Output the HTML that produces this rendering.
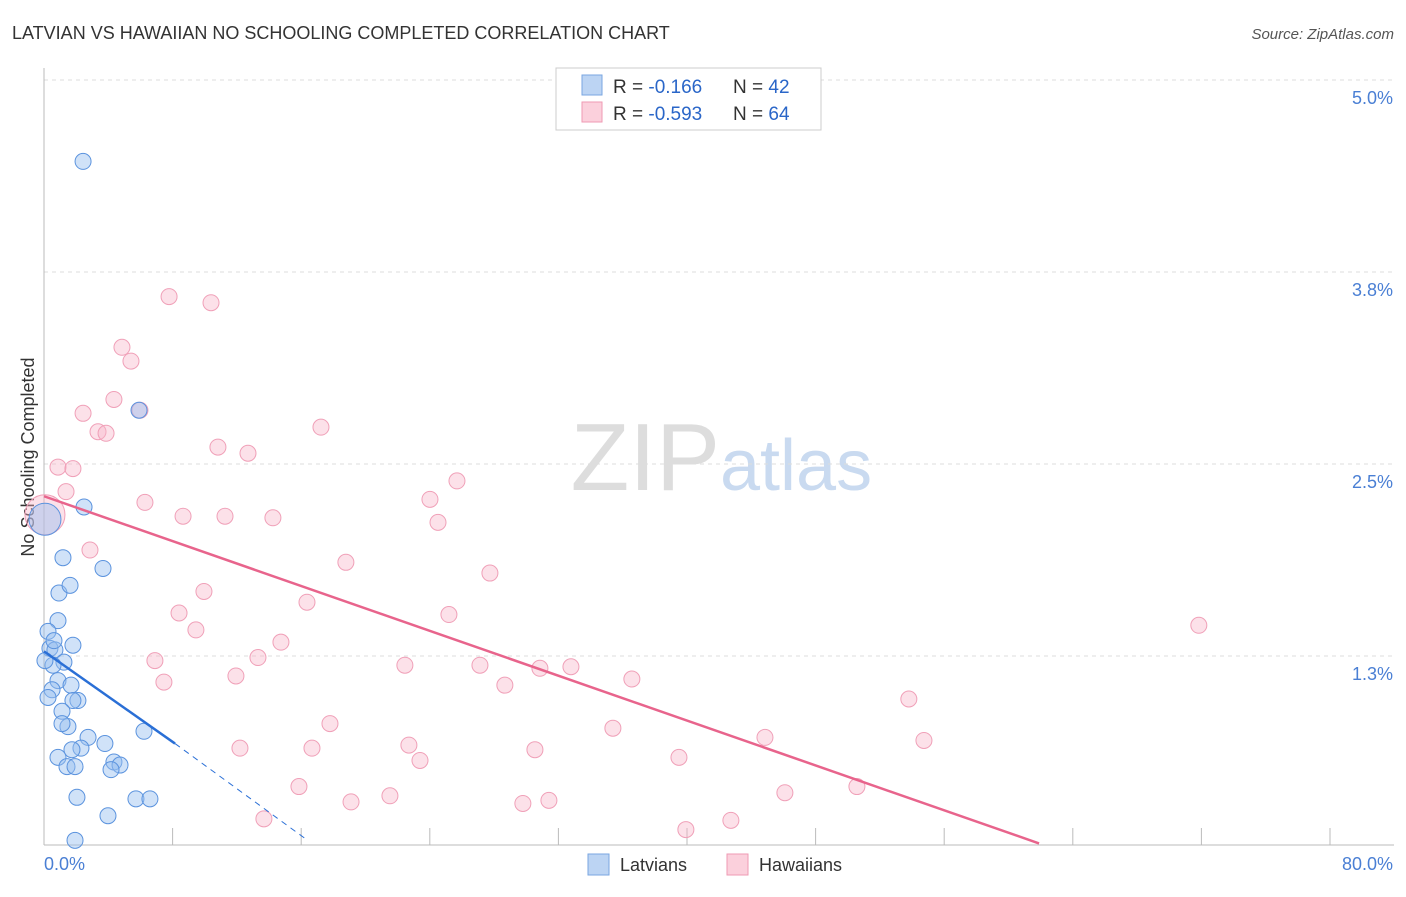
<!DOCTYPE html>
<html><head><meta charset="utf-8"><style>
body{margin:0;background:#fff;font-family:"Liberation Sans",sans-serif}
svg text{font-family:"Liberation Sans",sans-serif}
</style></head><body>
<svg id="c" width="1406" height="892">
<text x="12" y="39" font-size="18" fill="#333">LATVIAN VS HAWAIIAN NO SCHOOLING COMPLETED CORRELATION CHART</text>
<text x="1394" y="39" font-size="15" fill="#555" font-style="italic" text-anchor="end">Source: ZipAtlas.com</text>
<text x="34" y="457" font-size="18" fill="#333" transform="rotate(-90 34 457)" text-anchor="middle">No Schooling Completed</text>
<text x="720" y="490" font-size="96" fill="#ddd" text-anchor="end" font-family="Liberation Serif">ZIP</text>
<text x="720" y="490" font-size="72" fill="#c9daf0">atlas</text>
<g id="grid"></g><g id="pts"></g><g id="lines"></g>
<g>
<rect x="556" y="68" width="265" height="62" fill="#fff" stroke="#ccc"/>
<rect x="582" y="75" width="20" height="20" fill="#bcd4f3" stroke="#7aa6e0"/>
<rect x="582" y="102" width="20" height="20" fill="#fbd0dc" stroke="#ef9ab3"/>
<text x="613" y="93" font-size="19" fill="#333">R = <tspan fill="#2a66c8">-0.166</tspan></text>
<text x="733" y="93" font-size="19" fill="#333">N = <tspan fill="#2a66c8">42</tspan></text>
<text x="613" y="120" font-size="19" fill="#333">R = <tspan fill="#2a66c8">-0.593</tspan></text>
<text x="733" y="120" font-size="19" fill="#333">N = <tspan fill="#2a66c8">64</tspan></text>
</g>
<g>
<rect x="588" y="854" width="21" height="21" fill="#bcd4f3" stroke="#7aa6e0"/>
<text x="620" y="871" font-size="18" fill="#333">Latvians</text>
<rect x="727" y="854" width="21" height="21" fill="#fbd0dc" stroke="#ef9ab3"/>
<text x="759" y="871" font-size="18" fill="#333">Hawaiians</text>
</g>
</svg>
<script>
const latX=[2.43,5.91,2.49,0.06,1.18,3.67,0.93,1.62,0.87,0.25,1.8,0.37,0.68,1.24,0.56,0.06,0.87,1.68,0.5,2.11,1.8,1.12,1.49,1.12,2.74,6.22,2.3,1.74,3.79,0.87,4.35,4.73,4.17,1.43,1.93,2.05,5.72,6.59,3.98,1.93,0.62,0.25];
const latY=[4.47,2.85,2.22,2.14,1.89,1.82,1.66,1.71,1.48,1.41,1.32,1.30,1.29,1.21,1.19,1.22,1.09,1.06,1.03,0.96,0.96,0.89,0.79,0.81,0.72,0.76,0.65,0.64,0.68,0.59,0.56,0.54,0.51,0.53,0.53,0.33,0.32,0.32,0.21,0.05,1.35,0.98];
const hawX=[7.78,10.39,4.85,5.41,4.35,5.97,2.43,3.36,3.86,10.82,12.69,17.23,0.87,1.80,1.37,6.28,8.65,11.26,14.24,24.01,25.69,24.51,2.86,18.78,27.74,9.95,8.40,16.36,25.19,9.45,14.74,6.90,13.31,22.45,27.12,30.85,32.78,7.46,11.94,28.67,36.57,17.79,35.39,53.80,71.84,12.19,16.67,22.70,30.54,23.39,39.50,44.85,54.74,15.86,19.10,21.52,29.79,31.41,46.09,50.57,13.68,39.93,42.73,0.06];
const hawY=[3.59,3.55,3.26,3.17,2.92,2.85,2.83,2.71,2.70,2.61,2.57,2.74,2.48,2.47,2.32,2.25,2.16,2.16,2.15,2.27,2.39,2.12,1.94,1.86,1.79,1.67,1.53,1.60,1.52,1.42,1.34,1.22,1.24,1.19,1.19,1.17,1.18,1.08,1.12,1.06,1.10,0.81,0.78,0.97,1.45,0.65,0.65,0.67,0.64,0.57,0.59,0.72,0.70,0.40,0.30,0.34,0.29,0.31,0.36,0.40,0.19,0.12,0.18,2.17];
const yTicks=[1.25,2.5,3.75,5.0];
const yTickLabels=["1.3%","2.5%","3.8%","5.0%"];
const xTicks=[0,8,16,24,32,40,48,56,64,72,80];
const latTrend=[[0,1.28],[8.15,0.68]];
const latTrendDash=[[8.15,0.68],[16.4,0.05]];
const hawTrend=[[0,2.29],[61.9,0.03]];
const sx=v=>44+v/80*1286;
const sy=v=>848-v*153.6;
const NS="http://www.w3.org/2000/svg";
function mk(t,a,p){const e=document.createElementNS(NS,t);for(const k in a)e.setAttribute(k,a[k]);p.appendChild(e);return e;}
const grid=document.getElementById('grid');
yTicks.forEach((t,i)=>{
 const l=mk('line',{x1:44,x2:1394,y1:sy(t),y2:sy(t),stroke:'#ddd','stroke-dasharray':'4,4'},grid);
 
 
 const tx=mk('text',{x:1393,y:sy(t)+24,'font-size':18,fill:'#4a7fd4','text-anchor':'end'},grid);
 tx.textContent=yTickLabels[i];
 
 
});
const ax=mk('line',{x1:44,x2:44,y1:68,y2:845,stroke:'#bbb'},grid);


const bx=mk('line',{x1:44,x2:1394,y1:845,y2:845,stroke:'#bbb'},grid);


xTicks.forEach(t=>{
 const l=mk('line',{x1:sx(t),x2:sx(t),y1:828,y2:845,stroke:'#bbb'},grid);
 
 
});
const xl=mk('text',{x:44,y:870,'font-size':18,fill:'#4a7fd4'},grid);xl.textContent=xTicks[0].toFixed(1)+'%';


const xr=mk('text',{x:1393,y:870,'font-size':18,fill:'#4a7fd4','text-anchor':'end'},grid);xr.textContent=xTicks[xTicks.length-1].toFixed(1)+'%';


const pts=document.getElementById('pts');
hawX.forEach((x,i)=>{
 const big=i===hawX.length-1;
 const c=mk('circle',{cx:sx(x),cy:sy(hawY[i]),r:big?20:8,fill:'rgba(248,180,200,0.4)',stroke:'#f0a0b8','stroke-width':1},pts);
 
 
});
latX.forEach((x,i)=>{
 const big=i===3;
 const c=mk('circle',{cx:sx(x),cy:sy(latY[i]),r:big?16:8,fill:'rgba(150,190,240,0.45)',stroke:'#5b93de','stroke-width':1},pts);
 
 
});
const lines=document.getElementById('lines');
const h=mk('line',{x1:sx(hawTrend[0][0]),y1:sy(hawTrend[0][1]),x2:sx(hawTrend[1][0]),y2:sy(hawTrend[1][1]),stroke:'#e8648c','stroke-width':2.5},lines);


const l1=mk('line',{x1:sx(latTrend[0][0]),y1:sy(latTrend[0][1]),x2:sx(latTrend[1][0]),y2:sy(latTrend[1][1]),stroke:'#2a6fd6','stroke-width':2.5},lines);


const l2=mk('line',{x1:sx(latTrendDash[0][0]),y1:sy(latTrendDash[0][1]),x2:sx(latTrendDash[1][0]),y2:sy(latTrendDash[1][1]),stroke:'#2a6fd6','stroke-width':1,'stroke-dasharray':'6,5'},lines);


</script>
</body></html>
